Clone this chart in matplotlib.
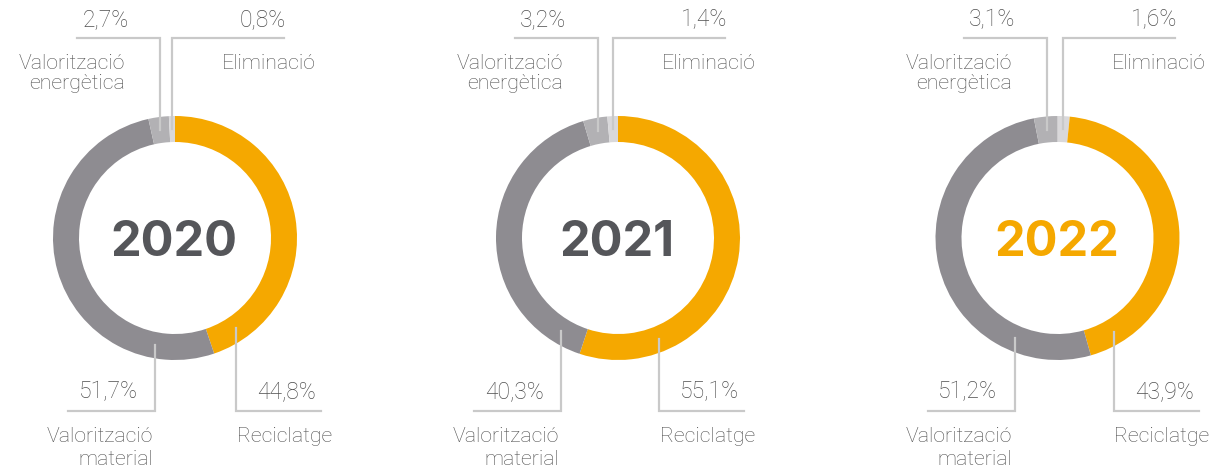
import numpy as np
import matplotlib
matplotlib.use("Agg")
import matplotlib.pyplot as plt

# ---- data ----
years = ["2020", "2021", "2022"]
categories = ["Reciclatge", "Valorització\nmaterial", "Valorització\nenergètica", "Eliminació"]
reciclatge = [44.8, 55.1, 43.9]
material = [51.7, 40.3, 51.2]
energetica = [2.7, 3.2, 3.1]
eliminacio = [0.8, 1.4, 1.6]

# ---- style / layout ----
W, H = 1227, 469
col_rec = "#F5A800"
col_mat = "#8E8C91"
col_ene = "#B2B1B4"
col_eli = "#D9D8DA"
line_col = "#C9C9C9"
txt_col = "#4F4F4F"
year_cols = ["#55565A", "#55565A", "#F5A800"]
centers_x = [175, 618, 1057.5]
cy = H - 238
R_out = 122
ring_w = 26
R_mid = R_out - ring_w / 2
# per-chart start order: 2022 begins with Eliminació at the top
orders = [[0, 1, 2, 3], [0, 1, 2, 3], [3, 0, 1, 2]]
bottom_mat_dx = [-20, -57, -43]
bottom_rec_dx = [61, 41, 56]
top_y = H - 38
bot_y = H - 411

lab_font = dict(family=["Roboto", "DejaVu Sans"], fontweight="light", fontsize=15.3, color=txt_col)
pct_font = dict(family=["Roboto", "DejaVu Sans"], fontweight="light", fontsize=16.5, color=txt_col)
year_font = dict(family=["Inter", "DejaVu Sans"], fontweight="bold", fontsize=35)

fig = plt.figure(figsize=(W / 100, H / 100), dpi=100)
ax = fig.add_axes([0, 0, 1, 1])


def fmt(v):
    return f"{v:.1f}".replace(".", ",") + "%"


for i, yr in enumerate(years):
    cx = centers_x[i]
    vals = [reciclatge[i], material[i], energetica[i], eliminacio[i]]
    cols = [col_rec, col_mat, col_ene, col_eli]
    order = orders[i]
    wedges, _ = ax.pie([vals[k] for k in order], colors=[cols[k] for k in order],
                       startangle=90, counterclock=False, center=(cx, cy), radius=R_out,
                       wedgeprops=dict(width=ring_w, linewidth=0))
    wmap = {order[j]: wedges[j] for j in range(4)}

    def mid_dx(w):
        ang = np.deg2rad((w.theta1 + w.theta2) / 2)
        return R_mid * np.cos(ang)

    def vline_start(dx, up):
        dy = np.sqrt(max(R_mid ** 2 - dx ** 2, 0))
        return cy + dy if up else cy - dy

    # top-left: Valorització energètica
    dx = mid_dx(wmap[2])
    x0 = cx + dx
    ax.plot([x0, x0, x0 - 83], [vline_start(dx, True), top_y, top_y], color=line_col, lw=1.6,
            solid_joinstyle="miter")
    ax.text(x0 - 78, top_y + 12, fmt(energetica[i]), ha="left", va="baseline", **pct_font)
    l1, l2 = categories[2].split("\n")
    ax.text(x0 - 35, H - 69, l1, ha="right", va="baseline", **lab_font)
    ax.text(x0 - 35, H - 89, l2, ha="right", va="baseline", **lab_font)

    # top-right: Eliminació
    dx = mid_dx(wmap[3])
    x0 = cx + dx
    ax.plot([x0, x0, x0 + 112], [vline_start(dx, True), top_y, top_y], color=line_col, lw=1.6,
            solid_joinstyle="miter")
    ax.text(x0 + 114, top_y + 12, fmt(eliminacio[i]), ha="right", va="baseline", **pct_font)
    ax.text(x0 + 143, H - 69, categories[3], ha="right", va="baseline", **lab_font)

    # bottom-left: Valorització material
    dx = bottom_mat_dx[i]
    x0 = cx + dx
    ax.plot([x0, x0, x0 - 87], [vline_start(dx, False), bot_y, bot_y], color=line_col, lw=1.6,
            solid_joinstyle="miter")
    ax.text(x0 - 47, bot_y + 13, fmt(material[i]), ha="center", va="baseline", **pct_font)
    l1, l2 = categories[1].split("\n")
    ax.text(x0 - 2, H - 442, l1, ha="right", va="baseline", **lab_font)
    ax.text(x0 - 2, H - 465, l2, ha="right", va="baseline", **lab_font)

    # bottom-right: Reciclatge
    dx = bottom_rec_dx[i]
    x0 = cx + dx
    ax.plot([x0, x0, x0 + 85], [vline_start(dx, False), bot_y, bot_y], color=line_col, lw=1.6,
            solid_joinstyle="miter")
    ax.text(x0 + 80, bot_y + 13, fmt(reciclatge[i]), ha="right", va="baseline", **pct_font)
    ax.text(x0 + 1, H - 442, categories[0], ha="left", va="baseline", **lab_font)

    # year
    ax.text(cx - 1, H - 256, yr, ha="center", va="baseline", color=year_cols[i], **year_font)

ax.set_xlim(0, W)
ax.set_ylim(0, H)
ax.set_aspect("equal")
ax.axis("off")
fig.savefig("out.png", dpi=100)
